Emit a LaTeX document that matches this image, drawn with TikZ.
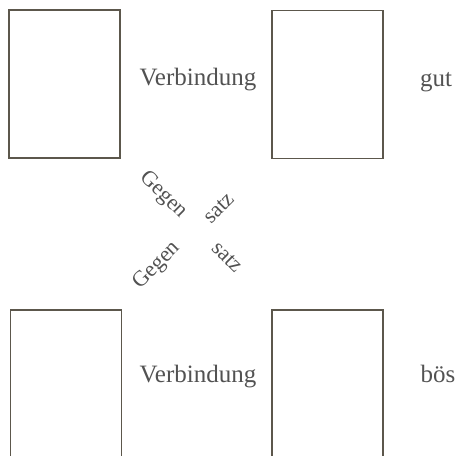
\documentclass[tikz,border=0pt]{standalone}
\usepackage{fontspec}
\setmainfont{Liberation Serif}
\usepackage{tikz}
\usetikzlibrary{positioning}
\definecolor{framegray}{rgb}{0.36,0.34,0.30}
\definecolor{textgray}{rgb}{0.32,0.32,0.32}

\begin{document}
\begin{tikzpicture}[
  x=1pt, y=-1pt,
  panel/.style={rectangle, draw=framegray, line width=1.4pt, fill=white,
                minimum width=111pt, minimum height=148pt, inner sep=0pt},
  word/.style={anchor=base, text=textgray, font=\fontsize{25}{29}\selectfont},
  slant/.style={text=textgray, font=\fontsize{22}{26}\selectfont, inner sep=0pt},
]
\clip (0,0) rectangle (456,456);

% the four empty panels
\node[panel] (tl) at (64.5,84) {};
\node[panel] (tr) at (327.5,84.5) {};
\node[panel] (bl) at (66,384) {};
\node[panel] (br) at (327.5,384) {};

% labels between and beside them
\node[word] (vtop) at (198,85) {Verbindung};
\node[word] (gut) at (436,86) {gut};
\node[word] (vbot) at (198,382) {Verbindung};
\node[word] (boes) at (438,382) {bös};

% the crossing words in the middle
\node[slant, rotate=-45] (g1) at (163,195) {Gegen};
\node[slant, rotate=45] (s1) at (219,208) {satz};
\node[slant, rotate=45] (g2) at (157,266) {Gegen};
\node[slant, rotate=-45] (s2) at (227,257) {satz};
\end{tikzpicture}
\end{document}
